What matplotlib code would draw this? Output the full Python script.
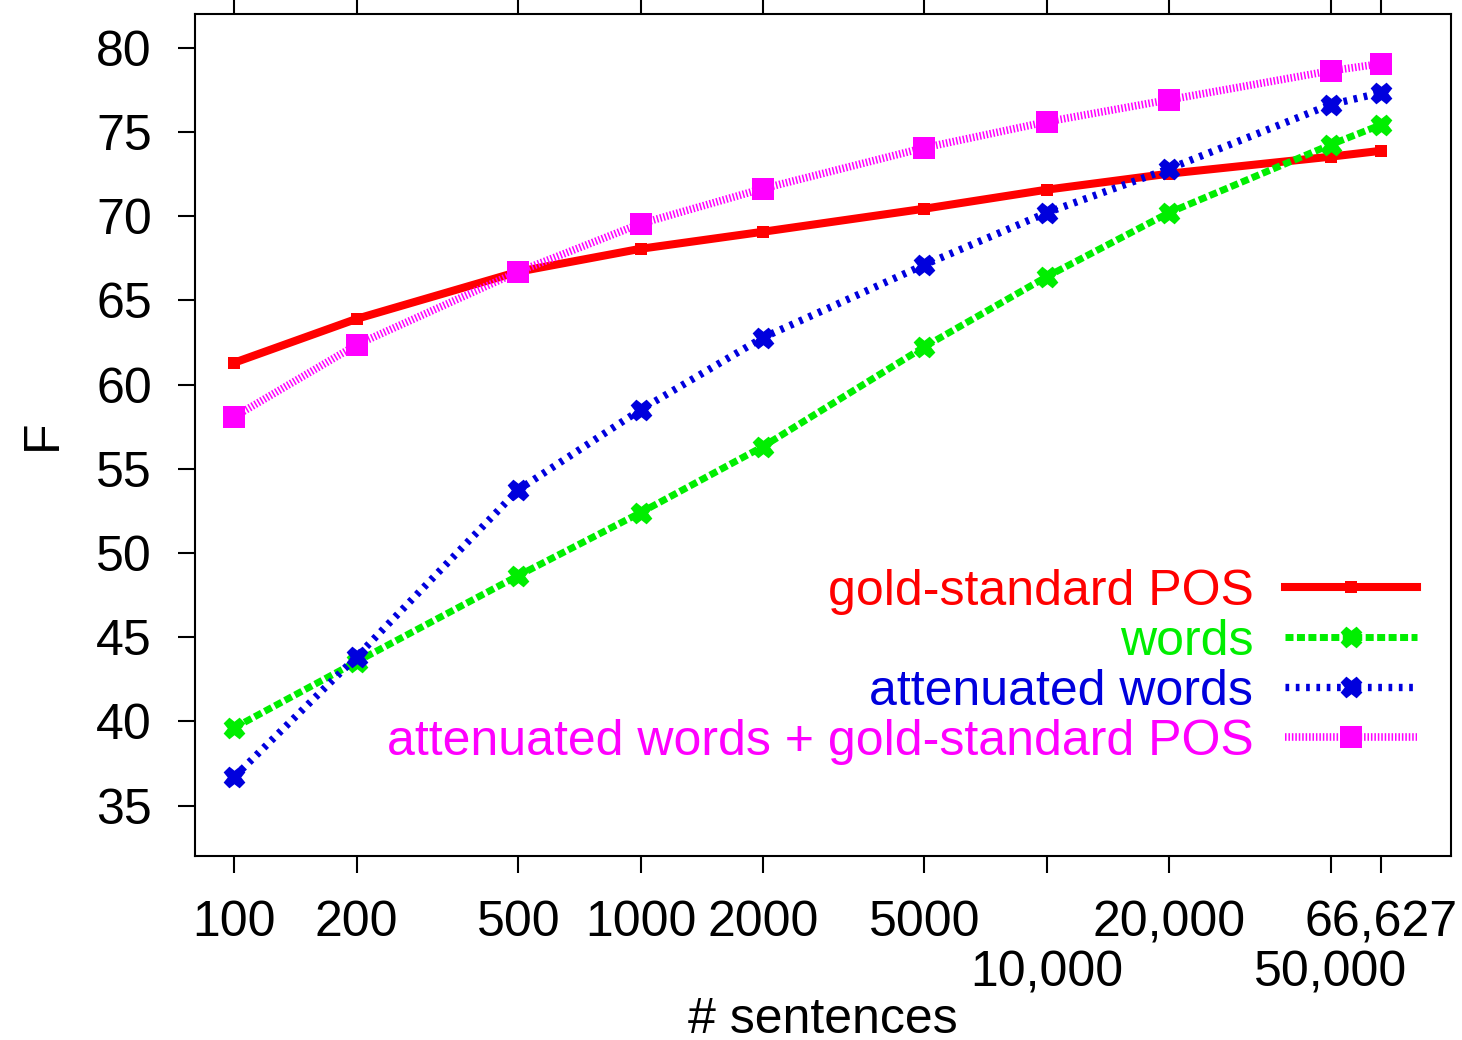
import numpy as np
import matplotlib
matplotlib.use("Agg")
import matplotlib.pyplot as plt

plt.rcParams['font.family'] = ['Liberation Sans', 'DejaVu Sans']

# data
sentences = [100, 200, 500, 1000, 2000, 5000, 10000, 20000, 50000, 66627]
upperTicks = [100, 200, 500, 1000, 2000, 5000, 20000, 66627]
upperLabels = ["100", "200", "500", "1000", "2000", "5000", "20,000", "66,627"]
lowerTicks = [10000, 50000]
lowerLabels = ["10,000", "50,000"]
goldPos = [61.3, 63.9, 66.7, 68.06, 69.07, 70.44, 71.57, 72.52, 73.53, 73.88]
words = [39.62, 43.54, 48.65, 52.39, 56.31, 62.24, 66.4, 70.2, 74.24, 75.43]
attWords = [36.71, 43.84, 53.75, 58.5, 62.78, 67.11, 70.2, 72.81, 76.62, 77.33]
attWordsGold = [58.09, 62.36, 66.7, 69.55, 71.63, 74.06, 75.6, 76.91, 78.63, 79.05]

fs = 36
fig = plt.figure(figsize=(14.62, 10.40), dpi=100)
ax = fig.add_axes([0.1334, 0.1769, 0.9925 - 0.1334, 0.9865 - 0.1769])

ax.plot(sentences, goldPos, color='#ff0000', lw=5.8, linestyle='-',
        marker='s', markersize=8, markeredgewidth=0, label='gold-standard POS')
ax.plot(sentences, words, color='#00ee00', lw=5.0, linestyle=(0, (1.15, 0.5)),
        marker='X', markersize=13, markeredgewidth=2, markeredgecolor='#00ee00',
        label='words')
ax.plot(sentences, attWords, color='#0000dd', lw=5.3, linestyle=(0, (0.5, 0.9)),
        marker='X', markersize=13, markeredgewidth=2, markeredgecolor='#0000dd',
        label='attenuated words')
ax.plot(sentences, attWordsGold, color='#ff00ff', lw=5.5, linestyle=(0, (0.2, 0.25)),
        marker='s', markersize=16, markeredgewidth=0,
        label='attenuated words + gold-standard POS')

ax.set_xscale('log')
ax.set_xlim(80, 99000)
ax.set_ylim(32, 82)
ax.set_xticks(upperTicks)
ax.set_xticklabels(upperLabels)
ax.set_xticks(lowerTicks, minor=True)
ax.set_xticklabels(lowerLabels, minor=True)
ax.yaxis.set_minor_locator(plt.NullLocator())
ax.set_yticks(np.arange(35, 81, 5))

ax.tick_params(axis='x', which='major', direction='out', length=12, width=1.5,
               top=True, labelsize=fs, pad=20)
ax.tick_params(axis='x', which='minor', direction='out', length=12, width=1.5,
               top=True, labelsize=fs, pad=56)
ax.tick_params(axis='y', which='major', direction='out', length=12, width=1.5,
               labelsize=fs, pad=19)
for s in ax.spines.values():
    s.set_linewidth(1.5)

ax.set_xlabel('# sentences', fontsize=fs)
ax.xaxis.set_label_coords(0.5, -0.168)
ax.set_ylabel('F', fontsize=fs, labelpad=22)

leg = ax.legend(loc='center right', bbox_to_anchor=(1.009, 0.225), frameon=False,
                fontsize=fs, markerfirst=False, labelcolor='linecolor',
                handlelength=2.64, handletextpad=0.64, labelspacing=0.08)

fig.savefig('out.png', dpi=100)
